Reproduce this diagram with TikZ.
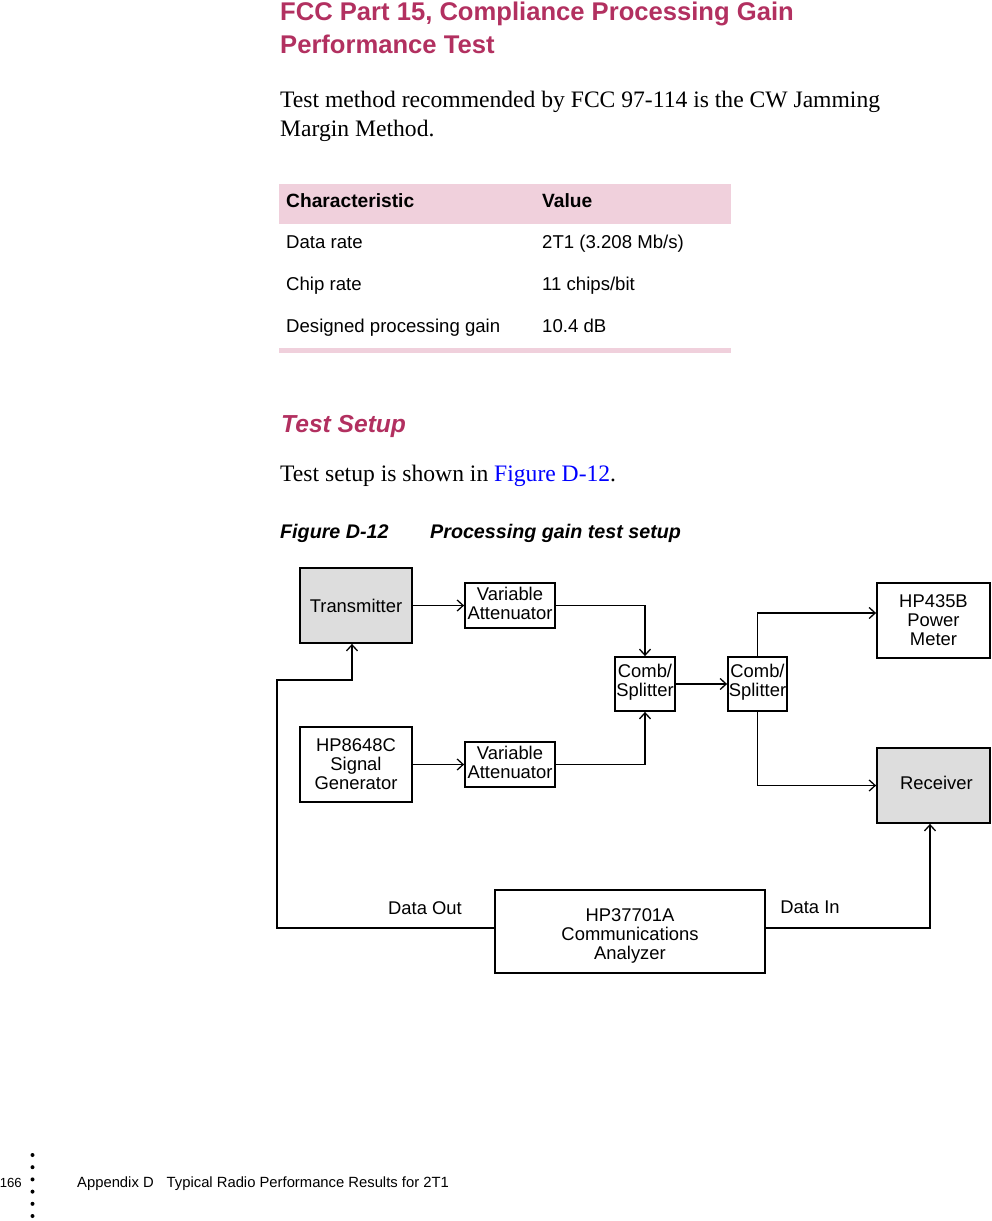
\documentclass[tikz,border=0pt]{standalone}
\usepackage{fontspec}
\setmainfont{Liberation Serif}
\newfontfamily\hv{Liberation Sans}
\usetikzlibrary{arrows.meta}
\definecolor{maroon1}{RGB}{178,48,96}
\definecolor{pink1}{RGB}{240,208,220}
\definecolor{gray1}{RGB}{221,221,221}
\definecolor{link1}{RGB}{0,0,255}
\newcommand{\setfs}[2]{\fontsize{#1}{#2}\selectfont}

\begin{document}
\begin{tikzpicture}[x=1pt,y=-1pt,
  txt/.style={inner sep=0pt, anchor=base west},
  cell/.style={txt, font=\hv\setfs{18.6}{21}},
  box/.style={draw, line width=1.8pt, inner sep=0pt, align=center, font=\hv\setfs{18.4}{19}},
  boxtext/.style={inner sep=0pt, align=center, font=\hv\setfs{18.4}{19}},
  conn/.style={line width=1.3pt, -{Straight Barb[length=6pt,width=11pt,line width=1.3pt]}},
  lbl/.style={inner sep=0pt, font=\hv\setfs{18.4}{19}}]

\useasboundingbox (0,0) rectangle (991,1221);

% ----- heading and body text -----
\node[txt, text=maroon1, font=\hv\bfseries\setfs{25.6}{32}] (title1) at (280,20) {FCC Part 15, Compliance Processing Gain};
\node[txt, text=maroon1, font=\hv\bfseries\setfs{25.6}{32}] (title2) at (280,53) {Performance Test};
\node[txt, font=\setfs{23.6}{29}] (intro1) at (280,107) {Test method recommended by FCC 97-114 is the CW Jamming};
\node[txt, font=\setfs{23.6}{29}] (intro2) at (280,136) {Margin Method.};

% ----- table -----
\fill[pink1] (279,184) rectangle (731,224);
\fill[pink1] (279,348) rectangle (731,353);
\node[txt, font=\hv\bfseries\setfs{19.2}{22}] (hdc) at (286,207) {Characteristic};
\node[txt, font=\hv\bfseries\setfs{19.2}{22}] (hdv) at (542,207) {Value};
\node[cell] (c1) at (286,248) {Data rate};
\node[cell] (v1) at (542,248) {2T1 (3.208 Mb/s)};
\node[cell] (c2) at (286,290) {Chip rate};
\node[cell] (v2) at (542,290) {11 chips/bit};
\node[cell] (c3) at (286,332) {Designed processing gain};
\node[cell] (v3) at (542,332) {10.4 dB};

% ----- test setup -----
\node[txt, text=maroon1, font=\hv\bfseries\itshape\setfs{24.6}{30}] (setup) at (281,432) {Test Setup};
\node[txt, font=\setfs{23.6}{29}] (setuptxt) at (280,481) {Test setup is shown in \textcolor{link1}{Figure D-12}.};
\node[txt, font=\hv\bfseries\itshape\setfs{19.7}{22}] (fignum) at (280,538) {Figure D-12};
\node[txt, font=\hv\bfseries\itshape\setfs{19.7}{22}] (figcap) at (430,538) {Processing gain test setup};

% ----- blocks -----
\node[box, fill=gray1, minimum width=112, minimum height=75] (tx) at (356,605.5) {Transmitter};
\node[box, minimum width=90, minimum height=45,
  label={[boxtext, name=va1t, yshift=2pt]center:Variable\\Attenuator}] (va1) at (510,605.5) {};
\node[box, minimum width=60, minimum height=54,
  label={[boxtext, name=cs1t, yshift=2pt]center:Comb/\\Splitter}] (cs1) at (645,684) {};
\node[box, minimum width=59, minimum height=54,
  label={[boxtext, name=cs2t, yshift=2pt]center:Comb/\\Splitter}] (cs2) at (757.5,684) {};
\node[box, minimum width=113, minimum height=75] (pm) at (933.5,620.5) {HP435B\\Power\\Meter};
\node[box, minimum width=112, minimum height=75] (sg) at (356,764.5) {HP8648C\\Signal\\Generator};
\node[box, minimum width=90, minimum height=45,
  label={[boxtext, name=va2t, yshift=2pt]center:Variable\\Attenuator}] (va2) at (510,764.5) {};
\node[box, fill=gray1, minimum width=113, minimum height=75,
  label={[boxtext, name=rxt, xshift=3pt, yshift=3pt]center:Receiver}] (rx) at (933.5,785.5) {};
\node[box, minimum width=270, minimum height=83,
  label={[boxtext, name=cat, yshift=-4.5pt]center:HP37701A\\Communications\\Analyzer}] (ca) at (630,931.5) {};
\coordinate (loop) at (277,680);

% ----- connectors -----
\draw[conn] (tx.east) -- (va1.west);
\draw[conn] (va1.east) -| (cs1.north);
\draw[conn] (sg.east) -- (va2.west);
\draw[conn] (va2.east) -| (cs1.south);
\draw[conn] (cs1.east) -- (cs2.west);
\draw[conn] (cs2.north) |- ([yshift=7.5pt]pm.west);
\draw[conn] (cs2.south) |- (rx.west);
\draw[conn] ([yshift=3.5pt]ca.west) -| (loop) -| ([xshift=-4pt]tx.south);
\draw[conn] ([yshift=3.5pt]ca.east) -| ([xshift=-3.5pt]rx.south);
\node[lbl] (dout) at (425,908) {Data Out};
\node[lbl] (din) at (810,907) {Data In};

% ----- footer -----
\node[inner sep=0pt, anchor=base east, font=\hv\setfs{13.2}{15}] (page) at (22,1187) {166};
\foreach \i in {0,...,5}
  \fill (32.5,1155+12.2*\i) circle (2);
\node[txt, font=\hv\setfs{14.8}{17}] (foot) at (77,1187) {Appendix D\hspace{13pt}Typical Radio Performance Results for 2T1};

\end{tikzpicture}
\end{document}
